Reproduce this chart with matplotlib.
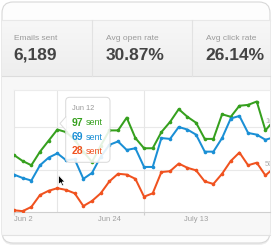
import matplotlib
matplotlib.use("Agg")
import matplotlib.pyplot as plt
import numpy as np
from matplotlib.patches import FancyBboxPatch, Polygon, Rectangle

plt.rcParams["font.family"] = ["Liberation Sans", "DejaVu Sans"]

# stat header
stat_labels = ["Emails sent", "Avg open rate", "Avg click rate"]
stat_values = ["6,189", "30.87%", "26.14%"]

# one point every two days from Jun 2
sent_total = [67, 60, 55, 71, 84, 97, 94, 85, 71, 59, 78, 96, 96, 111, 87, 75,
              75, 94, 106, 121, 112, 105, 86, 86, 115, 112, 125, 126, 130, 96, 108]
sent_open = [44, 40, 37, 55, 64, 69, 61, 62, 39, 46, 65, 79, 83, 73, 75, 53,
             53, 87, 86, 100, 97, 91, 71, 71, 87, 110, 113, 93, 91, 85, 88]
sent_click = [2, 1, 6, 20, 25, 28, 26, 22, 7, 13, 22, 36, 45, 44, 39, 18,
              22, 47, 48, 57, 52, 49, 36, 33, 45, 60, 70, 55, 58, 43, 52]
date_labels = ["Jun 2", "Jun 24", "July 13"]
date_pos = [0, 11, 21]
y_labels = [50, 100]
hover_idx = 5
hover_date = "Jun 12"

GREEN = "#36a01e"
BLUE = "#1a8fd5"
RED = "#f0521f"

W, H = 280, 252
fig = plt.figure(figsize=(W / 100, H / 100), dpi=100)
fig.patch.set_facecolor("white")

# background / card layer in pixel coordinates
bg = fig.add_axes([0, 0, 1, 1], zorder=0)
bg.set_xlim(0, W)
bg.set_ylim(H, 0)
bg.axis("off")

shadow = FancyBboxPatch((2, 4), 268, 241, boxstyle="round,pad=0,rounding_size=11",
                        facecolor="#000000", alpha=0.07, edgecolor="none")
bg.add_patch(shadow)
card = FancyBboxPatch((2, 2), 268, 241, boxstyle="round,pad=0,rounding_size=11",
                      facecolor="#fdfdfd", edgecolor="#d8d8d8", linewidth=0.8)
bg.add_patch(card)

# header band with light gradient
grad = np.linspace(0, 1, 64).reshape(-1, 1)
img = bg.imshow(grad, extent=[2, 270, 76, 20], cmap=matplotlib.colors.LinearSegmentedColormap.from_list(
    "hdr", ["#f7f7f7", "#eeeeee"]), aspect="auto", zorder=1)
img.set_clip_path(card)
bg.plot([2, 270], [20, 20], color="#e8e8e8", lw=0.8, zorder=2)
bg.plot([2, 270], [76, 76], color="#dcdcdc", lw=0.8, zorder=2)
for xs in (92, 192):
    bg.plot([xs, xs], [20, 76], color="#e2e2e2", lw=0.8, zorder=2)

# chart panel surround
panel = Rectangle((2, 76.5), 268, 158.5, facecolor="#f7f7f7", edgecolor="none", zorder=1)
bg.add_patch(panel)
panel.set_clip_path(card)
bg.plot([2, 270], [235, 235], color="#e2e2e2", lw=0.8, zorder=2)

for i, (lab, val) in enumerate(zip(stat_labels, stat_values)):
    x0 = 14 + i * 92 if i < 2 else 206
    bg.text(x0, 39, lab, fontsize=6, color="#9a9a9a", ha="left", va="center", zorder=3)
    bg.text(x0 - 0.5, 55.5, val, fontsize=12.5, fontweight="bold", color="#444444",
            ha="left", va="center", zorder=3)

# chart
ax = fig.add_axes([14 / W, 1 - 212 / H, 256 / W, 122 / H], zorder=1)
ax.set_facecolor("white")
x = np.arange(len(sent_total))
ax.set_xlim(0, 256 / 8.67)
ax.set_ylim(0, 122 / 0.85)

for v in y_labels:
    ax.axhline(v, color="#e9e9e9", lw=0.8, zorder=1)
    ax.text(28.95, v + 6, str(v), fontsize=5.5, color="#b0b0b0", ha="left", va="center",
            zorder=1.5, clip_on=True)
for xv in (hover_idx, 15):
    ax.axvline(xv, color="#e6e6e6", lw=0.8, zorder=1)

for series, col in ((sent_total, GREEN), (sent_open, BLUE), (sent_click, RED)):
    ax.plot(x, series, color=col, lw=1.45, marker="o", markersize=2.6,
            markeredgewidth=0, zorder=3, solid_joinstyle="round")

ax.spines["right"].set_visible(False)
ax.spines["bottom"].set_color("#cfcfcf")
ax.spines["left"].set_color("#e6e6e6")
ax.spines["top"].set_color("#ececec")
for s in ax.spines.values():
    s.set_linewidth(0.8)
ax.set_yticks([])
ax.set_xticks([0, 15])
ax.set_xticklabels([])
ax.tick_params(axis="x", length=2.5, width=0.8, color="#cfcfcf", direction="out")

for lab, pos in zip(date_labels, date_pos):
    ax.text(pos, -9.4, lab, fontsize=5.5, color="#a0a0a0",
            ha="left" if pos == 0 else "center", va="center", clip_on=False)

# tooltip + cursor overlay
top = fig.add_axes([0, 0, 1, 1], zorder=2)
top.set_xlim(0, W)
top.set_ylim(H, 0)
top.axis("off")
top.patch.set_alpha(0)

tip = FancyBboxPatch((65.7, 97.3), 44.3, 65, boxstyle="round,pad=0,rounding_size=4",
                     facecolor="white", alpha=0.88, edgecolor="none")
top.add_patch(tip)
tip_edge = FancyBboxPatch((65.7, 97.3), 44.3, 65, boxstyle="round,pad=0,rounding_size=4",
                          facecolor="none", edgecolor="#d9d9d9", linewidth=0.7)
top.add_patch(tip_edge)
arrow = Polygon([(66.1, 116.5), (60, 123.5), (66.1, 130.5)], closed=False,
                facecolor="white", edgecolor="#d9d9d9", linewidth=0.7, alpha=0.95)
top.add_patch(arrow)

top.text(72.3, 108.5, hover_date, fontsize=5.3, color="#999999", ha="left", va="center")
rows = ((sent_total, GREEN, 122.5), (sent_open, BLUE, 137), (sent_click, RED, 151.5))
for series, col, ty in rows:
    top.text(72, ty, str(series[hover_idx]), fontsize=7.5, fontweight="bold", color=col,
             ha="left", va="center")
    top.text(86, ty, "sent", fontsize=6.5, color=col, ha="left", va="center")

cursor = np.array([(0, 0), (0, 9.5), (2.2, 7.6), (3.8, 11), (5.2, 10.3),
                   (3.7, 7), (6.6, 7)])
top.add_patch(Polygon(cursor + (58.5, 175), closed=True, facecolor="black",
                      edgecolor="white", linewidth=0.6))

fig.savefig("out.png", dpi=100, facecolor="white")
